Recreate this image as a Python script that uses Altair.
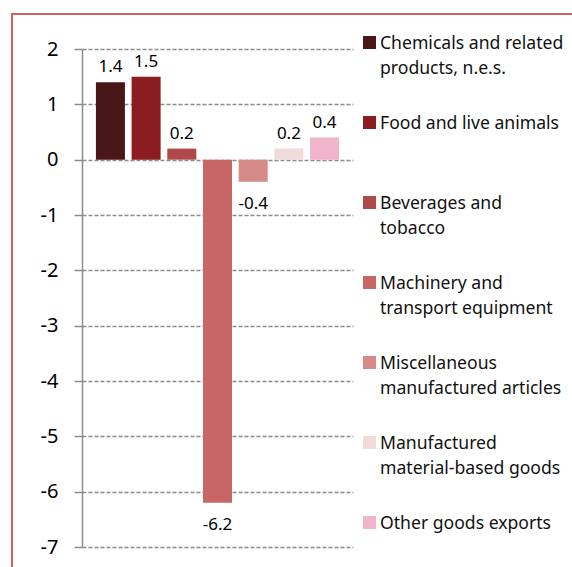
import altair as alt
import pandas as pd

categories = [
    "Chemicals and related products, n.e.s.",
    "Food and live animals",
    "Beverages and tobacco",
    "Machinery and transport equipment",
    "Miscellaneous manufactured articles",
    "Manufactured material-based goods",
    "Other goods exports",
]
legend_labels = [
    "Chemicals and related\nproducts, n.e.s.",
    "Food and live animals",
    "Beverages and\ntobacco",
    "Machinery and\ntransport equipment",
    "Miscellaneous\nmanufactured articles",
    "Manufactured\nmaterial-based goods",
    "Other goods exports",
]
values = [1.4, 1.5, 0.2, -6.2, -0.4, 0.2, 0.4]
colors = ["#4a1719", "#8b1d21", "#ae4a4a", "#c76665", "#d68b89", "#f1dada", "#f0b5cb"]
y_ticks = [-7, -6, -5, -4, -3, -2, -1, 0, 1, 2]

df = pd.DataFrame({
    "category": categories,
    "value": values,
    "legend": legend_labels,
    "label": [f"{v:.1f}" for v in values],
})

FONT = "Noto Sans"
color_enc = alt.Color("category:N", scale=alt.Scale(domain=categories, range=colors), legend=None)
x_enc = alt.X("category:N", sort=categories, axis=None,
              scale=alt.Scale(paddingInner=0.187, paddingOuter=0.39))
y_scale = alt.Scale(domain=[-7, 2], nice=False, zero=True)

base = alt.Chart(df)

bars = base.mark_bar().encode(
    x=x_enc,
    y=alt.Y("value:Q", scale=y_scale, title=None,
            axis=alt.Axis(values=y_ticks, labelExpr="'' + datum.value",
                          labelFontSize=20, labelFont=FONT,
                          labelColor="#000000", labelPadding=16, tickSize=8,
                          tickColor="#8c8c8c", domainColor="#8c8c8c", domainWidth=1.5,
                          tickWidth=1.5,
                          grid=True, gridColor="#8c8c8c", gridDash=[4, 2], gridWidth=1.5)),
    y2=alt.datum(0),
    color=color_enc,
)

pos_text = base.transform_filter("datum.value >= 0").mark_text(
    baseline="alphabetic", dy=-10, fontSize=17, font=FONT, color="#000000"
).encode(x=x_enc, y=alt.Y("value:Q", scale=y_scale), text="label:N")

neg_text = base.transform_filter("datum.value < 0").mark_text(
    baseline="top", dy=14, fontSize=17, font=FONT, color="#000000"
).encode(x=x_enc, y=alt.Y("value:Q", scale=y_scale), text="label:N")

main = alt.layer(bars, pos_text, neg_text)

leg_y = alt.Y("category:N", sort=categories, axis=None,
              scale=alt.Scale(type="point", domain=categories, range=[-6.5, 473.5], padding=0))

leg_sq = base.mark_square(size=169, opacity=1).encode(
    x=alt.value(287.5), y=leg_y, color=color_enc
)
leg_txt = base.mark_text(
    align="left", baseline="top", dy=-8, fontSize=17.6, font=FONT, color="#111111",
    lineBreak="\n", lineHeight=25
).encode(x=alt.value(298), y=leg_y, text="legend:N")

legend = alt.layer(leg_sq, leg_txt)

frame = alt.Chart(alt.Data(values=[{}])).mark_rect(
    filled=False, stroke="#cc6262", strokeWidth=2
).encode(x=alt.value(-70), x2=alt.value(700), y=alt.value(-35), y2=alt.value(700))

chart = alt.layer(frame, main, legend).resolve_scale(y="independent").properties(
    width=271, height=498,
    autosize=alt.AutoSizeParams(type="none"),
    padding={"left": 82, "top": 49, "right": 219, "bottom": 20},
).configure_view(stroke=None)

chart.save("out.html", embed_options={"renderer": "svg", "actions": False})
